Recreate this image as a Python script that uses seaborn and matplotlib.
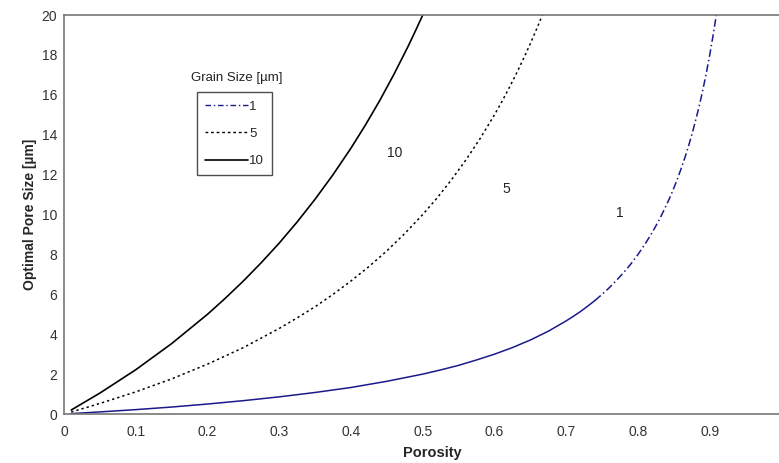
import numpy as np
import pandas as pd
import matplotlib
matplotlib.use("Agg")
import matplotlib.pyplot as plt
import seaborn as sns
from matplotlib.lines import Line2D

## data
por_1 = [0.01, 0.05, 0.10, 0.15, 0.20, 0.25, 0.30, 0.35, 0.40, 0.45, 0.50, 0.525,
         0.55, 0.575, 0.60, 0.625, 0.65, 0.675, 0.70, 0.71, 0.72, 0.73, 0.74, 0.75,
         0.76, 0.77, 0.78, 0.79, 0.80, 0.81, 0.82, 0.83, 0.84, 0.845, 0.85, 0.855,
         0.86, 0.865, 0.87, 0.875, 0.88, 0.885, 0.89, 0.895, 0.90, 0.905, 0.91]
pore_1 = [0.02, 0.105, 0.22, 0.35, 0.50, 0.67, 0.86, 1.08, 1.33, 1.64, 2.00, 2.21,
          2.44, 2.71, 3.00, 3.33, 3.71, 4.15, 4.67, 4.90, 5.14, 5.41, 5.69, 6.00,
          6.33, 6.70, 7.09, 7.52, 8.00, 8.53, 9.11, 9.76, 10.50, 10.90, 11.33, 11.79,
          12.29, 12.81, 13.38, 14.00, 14.67, 15.39, 16.18, 17.05, 18.00, 19.05, 20.20]
por_5 = [0.01, 0.05, 0.10, 0.15, 0.20, 0.25, 0.30, 0.325, 0.35, 0.375, 0.40, 0.425,
         0.45, 0.475, 0.50, 0.52, 0.54, 0.56, 0.58, 0.60, 0.61, 0.62, 0.63, 0.64,
         0.65, 0.66, 0.667]
pore_5 = [0.10, 0.53, 1.11, 1.76, 2.50, 3.33, 4.29, 4.82, 5.38, 6.00, 6.67, 7.39,
          8.18, 9.05, 10.00, 10.83, 11.74, 12.73, 13.81, 15.00, 15.64, 16.32, 17.03, 17.78,
          18.57, 19.41, 20.03]
por_10 = [0.01, 0.05, 0.10, 0.15, 0.20, 0.225, 0.25, 0.275, 0.30, 0.325, 0.35, 0.375,
          0.40, 0.42, 0.44, 0.46, 0.48, 0.49, 0.50]
pore_10 = [0.20, 1.05, 2.22, 3.53, 5.00, 5.81, 6.67, 7.59, 8.57, 9.63, 10.77, 12.00,
           13.33, 14.48, 15.71, 17.04, 18.46, 19.22, 20.00]

grain_labels = ["1", "5", "10"]
label_pos = {"10": (0.461, 13.1), "5": (0.616, 11.3), "1": (0.774, 10.1)}

sns.set_style("white")
plt.rcParams['font.family'] = ['Liberation Sans', 'DejaVu Sans']
plt.rcParams['xtick.direction'] = 'in'
plt.rcParams['ytick.direction'] = 'in'

fig = plt.figure(figsize=(7.79, 4.63), dpi=100)
ax = fig.add_axes([0.0822, 0.1058, 0.921, 0.8618])

df1 = pd.DataFrame({"x": por_1, "y": pore_1})
df5 = pd.DataFrame({"x": por_5, "y": pore_5})
df10 = pd.DataFrame({"x": por_10, "y": pore_10})

blue = "#1a1a8c"
## grain 1: dense dash-dot looks solid on the flat part, so split it
low = df1[df1.x <= 0.74]
high = df1[df1.x >= 0.74]
sns.lineplot(x="x", y="y", data=low, ax=ax, color=blue, lw=1.1, sort=False)
sns.lineplot(x="x", y="y", data=high, ax=ax, color=blue, lw=1.1, sort=False,
             linestyle=(0, (5, 2, 1, 2)))
sns.lineplot(x="x", y="y", data=df5, ax=ax, color="black", lw=1.1, sort=False,
             linestyle=(0, (1.5, 2)))
sns.lineplot(x="x", y="y", data=df10, ax=ax, color="black", lw=1.2, sort=False)

## legend handles
handles = [Line2D([], [], color=blue, lw=1.0, linestyle=(0, (4, 2, 1, 2))),
           Line2D([], [], color="black", lw=1.0, linestyle=(0, (2, 2))),
           Line2D([], [], color="black", lw=1.2)]
leg = ax.legend(handles, grain_labels, loc="upper left",
                bbox_to_anchor=(0.186, 0.806), fontsize=9.5, frameon=True,
                fancybox=False, edgecolor="#222222", handlelength=3.2,
                handletextpad=0.1, labelspacing=1.15, borderpad=0.6,
                borderaxespad=0)
leg.get_frame().set_linewidth(1.0)
ax.text(0.241, 16.84, "Grain Size [µm]", fontsize=9.5, ha="center", va="center",
        color="#222222")

for k in grain_labels:
    xx, yy = label_pos[k]
    ax.text(xx, yy, k, fontsize=10, ha="center", va="center", color="#222222")

ax.set_xlim(0, 1)
ax.set_ylim(0, 20)
ax.set_xticks(np.arange(0, 1.01, 0.1))
ax.set_xticklabels(["0", "0.1", "0.2", "0.3", "0.4", "0.5", "0.6", "0.7", "0.8", "0.9", "1"])
ax.set_yticks(np.arange(0, 21, 2))
ax.tick_params(axis="both", labelsize=10, labelcolor="#333333", length=4,
               width=1, color="#555555")
ax.tick_params(axis="x", pad=8)
ax.tick_params(axis="y", pad=5)
for s in ax.spines.values():
    s.set_color("#777777")
    s.set_linewidth(1.2)

ax.set_xlabel("Porosity", fontsize=10.5, fontweight="bold")
ax.xaxis.set_label_coords(0.513, -0.08)
ax.set_ylabel("Optimal Pore Size [µm]", fontsize=10, fontweight="bold", labelpad=3)

fig.savefig("out.png", dpi=100)
